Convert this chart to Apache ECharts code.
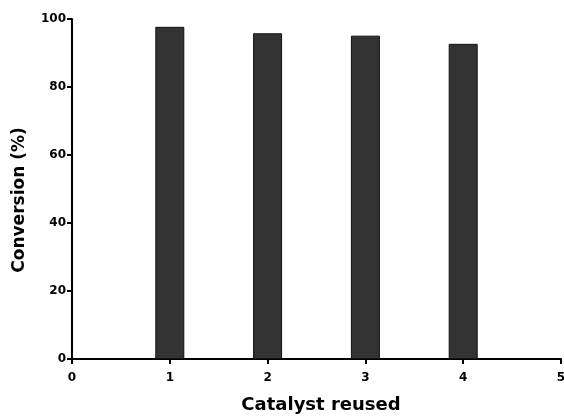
<!DOCTYPE html>
<html><head><meta charset="utf-8">
<script src="https://cdn.jsdelivr.net/npm/echarts@6/dist/echarts.min.js"></script>
<style>html,body{margin:0;padding:0;background:#fff}#c{width:564px;height:417px}</style>
</head><body><div id="c"></div>
<script>
const cycles = [1, 2, 3, 4];
const conversion = [97.7, 95.8, 95.1, 92.7];
const xTicks = [0, 1, 2, 3, 4, 5];
const yTicks = [0, 20, 40, 60, 80, 100];
const xTitle = 'Catalyst reused';
const yTitle = 'Conversion (%)';

const chart = echarts.init(document.getElementById('c'), null, {renderer: 'canvas'});
const font = 'DejaVu Sans, sans-serif';
chart.setOption({
  animation: false,
  grid: {left: 72, right: 3, top: 19, bottom: 58, containLabel: false, outerBoundsMode: 'none'},
  xAxis: {
    type: 'value', min: xTicks[0], max: xTicks[xTicks.length - 1], interval: 1,
    name: xTitle, nameLocation: 'middle', nameGap: 37,
    nameTextStyle: {fontFamily: font, fontWeight: 'bold', fontSize: 18, color: '#000', padding: [0, 0, 0, 9]},
    axisLine: {show: true, onZero: false, lineStyle: {color: '#000', width: 2}},
    axisTick: {show: true, length: 5, lineStyle: {color: '#000', width: 2}},
    axisLabel: {fontFamily: font, fontWeight: 'bold', fontSize: 12, color: '#000', margin: 13},
    splitLine: {show: false}
  },
  yAxis: {
    type: 'value', min: yTicks[0], max: yTicks[yTicks.length - 1], interval: 20,
    name: yTitle, nameLocation: 'middle', nameGap: 44,
    nameTextStyle: {fontFamily: font, fontWeight: 'bold', fontSize: 17, color: '#000', padding: [0, 22, 0, 0]},
    axisLine: {show: true, onZero: false, lineStyle: {color: '#000', width: 2}},
    axisTick: {show: true, length: 5, lineStyle: {color: '#000', width: 2}},
    axisLabel: {fontFamily: font, fontWeight: 'bold', fontSize: 12, color: '#000', margin: 6},
    splitLine: {show: false}
  },
  series: [{
    type: 'bar',
    data: cycles.map((c, i) => [c, conversion[i]]),
    barWidth: 29,
    itemStyle: {color: '#333333', borderColor: '#111', borderWidth: 1}
  }]
});
</script></body></html>
